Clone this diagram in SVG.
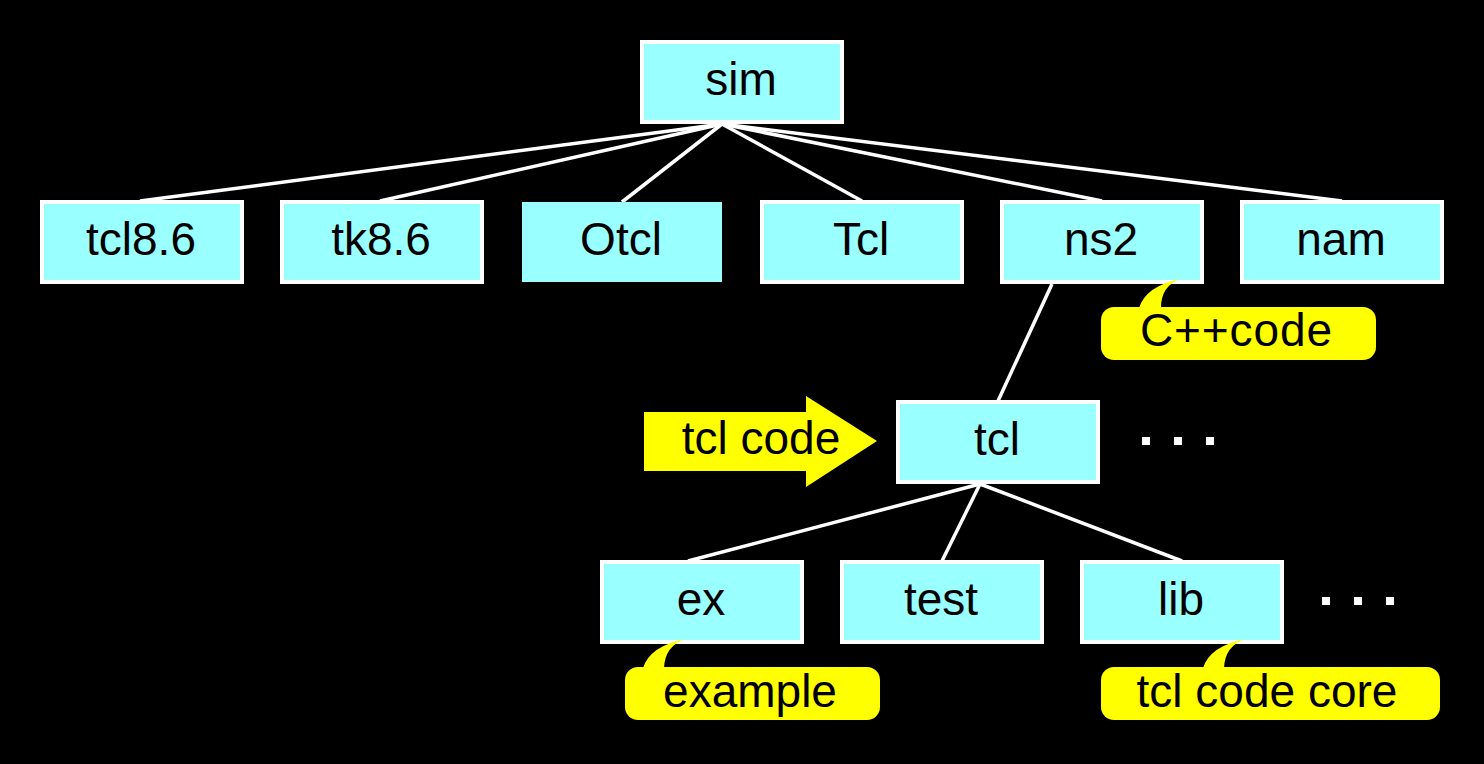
<svg xmlns="http://www.w3.org/2000/svg" width="1484" height="764" viewBox="0 0 1484 764">
<style>
.box{fill:#99FFFF;stroke:#FFFFFF;stroke-width:4}
.nb{fill:#99FFFF}
.lbl{font-family:"Liberation Sans",Arial,sans-serif;font-size:46px;fill:#000;text-anchor:middle}
.ln{stroke:#FFFFFF;stroke-width:3.5;fill:none}
.call{fill:#FFFF00}
.dot{fill:#FFFFFF}
</style>
<rect width="1484" height="764" fill="#000"/>
<g id="connectors">
<line class="ln" x1="722" y1="124" x2="140" y2="201"/>
<line class="ln" x1="722" y1="124" x2="380" y2="201"/>
<line class="ln" x1="722" y1="124" x2="622" y2="202"/>
<line class="ln" x1="722" y1="124" x2="862" y2="201"/>
<line class="ln" x1="722" y1="124" x2="1102" y2="201"/>
<line class="ln" x1="722" y1="124" x2="1342" y2="201"/>
<line class="ln" x1="1052" y1="284" x2="998" y2="401"/>
<line class="ln" x1="980" y1="484" x2="688" y2="561"/>
<line class="ln" x1="980" y1="484" x2="942" y2="561"/>
<line class="ln" x1="980" y1="484" x2="1182" y2="561"/>
</g>
<g id="sim"><rect class="box" x="642" y="42" width="200" height="80"/><text class="lbl" x="741" y="95">sim</text></g>
<g id="tcl86"><rect class="box" x="42" y="202" width="200" height="80"/><text class="lbl" x="141" y="255">tcl8.6</text></g>
<g id="tk86"><rect class="box" x="282" y="202" width="200" height="80"/><text class="lbl" x="381" y="255">tk8.6</text></g>
<g id="Otcl"><rect class="nb" x="522" y="202" width="200" height="80"/><text class="lbl" x="621" y="255">Otcl</text></g>
<g id="Tcl"><rect class="box" x="762" y="202" width="200" height="80"/><text class="lbl" x="861" y="255">Tcl</text></g>
<g id="ns2"><rect class="box" x="1002" y="202" width="200" height="80"/><text class="lbl" x="1101" y="255">ns2</text></g>
<g id="nam"><rect class="box" x="1242" y="202" width="200" height="80"/><text class="lbl" x="1341" y="255">nam</text></g>
<g id="tcl"><rect class="box" x="898" y="402" width="200" height="80"/><text class="lbl" x="997" y="455">tcl</text></g>
<g id="ex"><rect class="box" x="602" y="562" width="200" height="80"/><text class="lbl" x="701" y="615">ex</text></g>
<g id="test"><rect class="box" x="842" y="562" width="200" height="80"/><text class="lbl" x="941" y="615">test</text></g>
<g id="lib"><rect class="box" x="1082" y="562" width="200" height="80"/><text class="lbl" x="1181" y="615">lib</text></g>
<g id="cppcode">
<path class="call" d="M1139,308 Q1146,286 1180,279 Q1161,286 1161,308 Z"/>
<rect class="call" x="1101" y="307" width="275" height="53" rx="13"/>
<text class="lbl" x="1236" y="346" textLength="192">C++code</text>
</g>
<g id="tclcode-arrow">
<path class="call" d="M644,412 H806 V396 L877,441 L806,487 V471 H644 Z"/>
<text class="lbl" x="761" y="454">tcl code</text>
</g>
<g id="example">
<path class="call" d="M643,668 Q650,646 685,639 Q665,646 664,668 Z"/>
<rect class="call" x="625" y="667" width="255" height="53" rx="13"/>
<text class="lbl" x="750" y="707">example</text>
</g>
<g id="tclcodecore">
<path class="call" d="M1203,668 Q1210,646 1245,639 Q1225,646 1224,668 Z"/>
<rect class="call" x="1101" y="667" width="339" height="53" rx="13"/>
<text class="lbl" x="1267" y="707">tcl code core</text>
</g>
<g id="dots">
<rect class="dot" x="1142" y="437" width="8" height="8"/>
<rect class="dot" x="1174" y="437" width="8" height="8"/>
<rect class="dot" x="1206" y="437" width="8" height="8"/>
<rect class="dot" x="1322" y="597" width="8" height="8"/>
<rect class="dot" x="1354" y="597" width="8" height="8"/>
<rect class="dot" x="1386" y="597" width="8" height="8"/>
</g>
</svg>
